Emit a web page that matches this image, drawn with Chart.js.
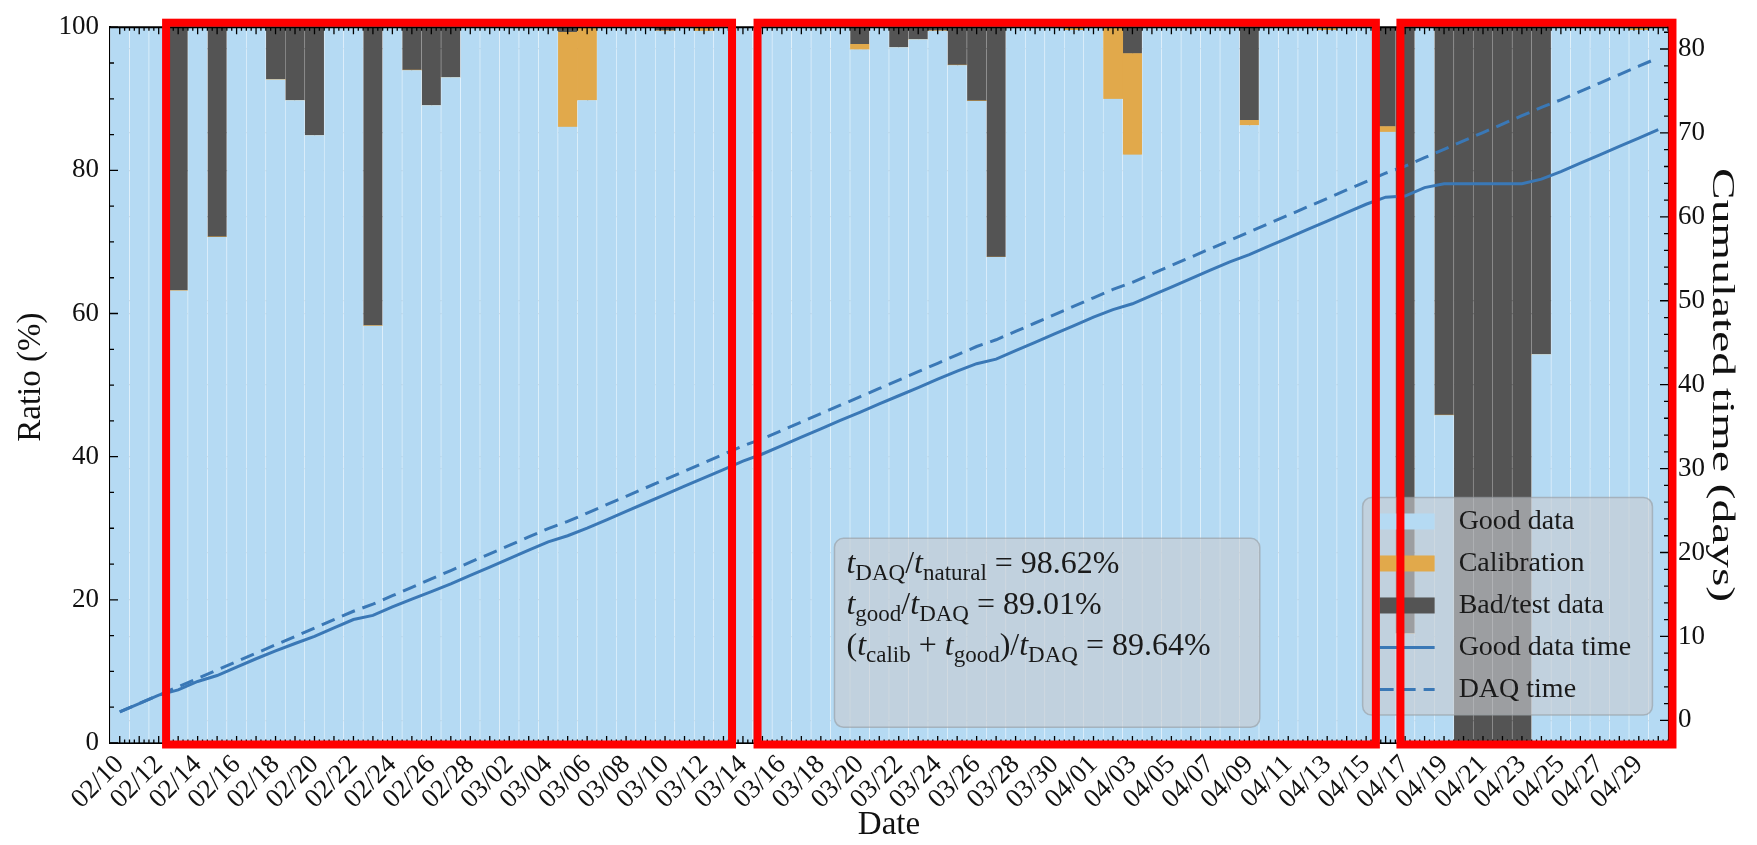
<!DOCTYPE html>
<html>
<head>
<meta charset="utf-8">
<script src="https://cdn.jsdelivr.net/npm/chart.js@4"></script>
<style>
  html, body { margin: 0; padding: 0; background: #fff; }
  #wrap { width: 1757px; height: 845px; }
</style>
</head>
<body>
<div id="wrap"><canvas id="runs" width="1757" height="845"></canvas></div>
<script>
'use strict';

// ===== data =====
var dates = ['02/10','02/11','02/12','02/13','02/14','02/15','02/16','02/17','02/18','02/19',
  '02/20','02/21','02/22','02/23','02/24','02/25','02/26','02/27','02/28','03/01',
  '03/02','03/03','03/04','03/05','03/06','03/07','03/08','03/09','03/10','03/11',
  '03/12','03/13','03/14','03/15','03/16','03/17','03/18','03/19','03/20','03/21',
  '03/22','03/23','03/24','03/25','03/26','03/27','03/28','03/29','03/30','03/31',
  '04/01','04/02','04/03','04/04','04/05','04/06','04/07','04/08','04/09','04/10',
  '04/11','04/12','04/13','04/14','04/15','04/16','04/17','04/18','04/19','04/20',
  '04/21','04/22','04/23','04/24','04/25','04/26','04/27','04/28','04/29','04/30'];

// daily ratios (%)
var goodPct = [100, 100, 100, 63.2, 100, 70.7, 100, 100, 92.7, 89.8,
  84.9, 100, 100, 58.3, 100, 94.0, 89.1, 93.0, 100, 100,
  100, 100, 100, 86.1, 89.8, 100, 100, 100, 99.5, 100,
  99.5, 100, 100, 100, 100, 100, 100, 100, 96.9, 100,
  97.2, 98.3, 99.5, 94.7, 89.7, 67.9, 100, 100, 100, 99.6,
  100, 90.0, 82.2, 100, 100, 100, 100, 100, 86.3, 100,
  100, 100, 99.6, 100, 100, 85.4, 15.3, 100, 45.8, 0,
  0, 0, 0, 54.3, 100, 100, 100, 100, 99.6, 100];

var calibPct = [0, 0, 0, 0, 0, 0, 0, 0, 0, 0,
  0, 0, 0, 0, 0, 0, 0, 0, 0, 0,
  0, 0, 0, 13.2, 10.2, 0, 0, 0, 0, 0,
  0.5, 0, 0, 0, 0, 0, 0, 0, 0.7, 0,
  0, 0, 0, 0, 0, 0, 0, 0, 0, 0.4,
  0, 10.0, 14.1, 0, 0, 0, 0, 0, 0.7, 0,
  0, 0, 0.4, 0, 0, 0.7, 0, 0, 0, 0,
  0, 0, 0, 0, 0, 0, 0, 0, 0.4, 0];

var badPct = [0, 0, 0, 36.8, 0, 29.3, 0, 0, 7.3, 10.2,
  15.1, 0, 0, 41.7, 0, 6.0, 10.9, 7.0, 0, 0,
  0, 0, 0, 0.7, 0, 0, 0, 0, 0.5, 0,
  0, 0, 0, 0, 0, 0, 0, 0, 2.4, 0,
  2.8, 1.7, 0.5, 5.3, 10.3, 32.1, 0, 0, 0, 0,
  0, 0, 3.7, 0, 0, 0, 0, 0, 13.0, 0,
  0, 0, 0, 0, 0, 13.9, 84.7, 0, 54.2, 100,
  100, 100, 100, 45.7, 0, 0, 0, 0, 0, 0];

// cumulated time (days)
var goodTime = [1.00, 2.00, 3.00, 3.63, 4.63, 5.34, 6.34, 7.34, 8.27, 9.16,
  10.01, 11.01, 12.01, 12.51, 13.51, 14.45, 15.34, 16.27, 17.27, 18.27,
  19.27, 20.27, 21.27, 22.00, 22.90, 23.90, 24.90, 25.90, 26.90, 27.90,
  28.89, 29.89, 30.89, 31.74, 32.74, 33.74, 34.74, 35.74, 36.71, 37.71,
  38.68, 39.66, 40.66, 41.61, 42.50, 43.05, 44.05, 45.05, 46.05, 47.04,
  48.04, 48.94, 49.64, 50.64, 51.64, 52.64, 53.64, 54.64, 55.50, 56.50,
  57.50, 58.50, 59.50, 60.50, 61.50, 62.35, 62.48, 63.48, 63.94, 63.94,
  63.94, 63.94, 63.94, 64.49, 65.39, 66.39, 67.39, 68.39, 69.38, 70.38];

var daqTime = [1, 2, 3, 4, 5, 6, 7, 8, 9, 10,
  11, 12, 13, 13.85, 14.85, 15.85, 16.85, 17.85, 18.85, 19.85,
  20.85, 21.85, 22.85, 23.70, 24.70, 25.70, 26.70, 27.70, 28.70, 29.70,
  30.70, 31.70, 32.70, 33.55, 34.55, 35.55, 36.55, 37.55, 38.55, 39.55,
  40.55, 41.55, 42.55, 43.55, 44.55, 45.35, 46.35, 47.35, 48.35, 49.35,
  50.35, 51.35, 52.20, 53.20, 54.20, 55.20, 56.20, 57.20, 58.20, 59.20,
  60.20, 61.20, 62.20, 63.20, 64.20, 65.20, 66.05, 67.05, 68.05, 69.05,
  70.05, 71.05, 72.05, 73.05, 73.95, 74.95, 75.95, 76.95, 77.95, 78.95];

var ratioTicks = [0, 20, 40, 60, 80, 100];
var daysTicks = [0, 10, 20, 30, 40, 50, 60, 70, 80];

// highlighted date ranges (red frames): first day, last day, shift of each edge in days
var frames = [['02/13', '03/13', -0.12, -0.06], ['03/15', '04/15', 0.25, 0], ['04/17', '04/30', 0.26, 0.23]];

// =====

var SERIF = '"Liberation Serif", "Times New Roman", serif';
var GRID = 'rgba(80,80,80,0.85)';
var LINE_BLUE = '#3a78b6';

function drawMath(ctx, x, y, parts){
  parts.forEach(function(p){
    var txt = p[0], kind = p[1];
    if (kind === 's') {
      ctx.font = '23px ' + SERIF;
      ctx.fillText(txt, x, y + 7);
    } else if (kind === 'i') {
      ctx.font = 'italic 32px ' + SERIF;
      ctx.fillText(txt, x, y);
    } else {
      ctx.font = '32px ' + SERIF;
      ctx.fillText(txt, x, y);
    }
    x += ctx.measureText(txt).width;
  });
}

function roundRect(ctx, x, y, w, h, r){
  ctx.beginPath();
  ctx.moveTo(x + r, y);
  ctx.arcTo(x + w, y, x + w, y + h, r);
  ctx.arcTo(x + w, y + h, x, y + h, r);
  ctx.arcTo(x, y + h, x, y, r);
  ctx.arcTo(x, y, x + w, y, r);
  ctx.closePath();
}

// vertical axis title; stretch widens it along its length
function sideTitle(ctx, text, cx, cy, angle, size, stretch){
  ctx.save();
  ctx.translate(cx, cy);
  ctx.rotate(angle);
  ctx.scale(stretch, 1);
  ctx.font = size + 'px ' + SERIF;
  ctx.fillStyle = '#111';
  ctx.textAlign = 'center';
  ctx.textBaseline = 'middle';
  ctx.fillText(text, 0, 0);
  ctx.restore();
}

var overlay = {
  id: 'overlay',
  afterDraw: function(chart){
    var ctx = chart.ctx, a = chart.chartArea;
    var xs = chart.scales.x, ys = chart.scales.y, ys2 = chart.scales.y2;
    var W = a.right - a.left, H = a.bottom - a.top;
    var slot = xs.getPixelForValue(1) - xs.getPixelForValue(0);
    ctx.save();

    // top spine
    ctx.strokeStyle = '#000';
    ctx.lineWidth = 2;
    ctx.beginPath();
    ctx.moveTo(a.left, a.top); ctx.lineTo(a.right, a.top);
    ctx.stroke();

    // inward ticks
    ctx.lineWidth = 1.3;
    ctx.beginPath();
    for (var i = 0; i < dates.length; i++) {
      var px = xs.getPixelForValue(i);
      ctx.moveTo(px, a.bottom); ctx.lineTo(px, a.bottom - 7);
      ctx.moveTo(px, a.top); ctx.lineTo(px, a.top + 7);
      for (var j = 1; j < 4; j++) {
        var mx = px + j * slot / 4;
        if (mx > a.right) break;
        ctx.moveTo(mx, a.bottom); ctx.lineTo(mx, a.bottom - 3.5);
        ctx.moveTo(mx, a.top); ctx.lineTo(mx, a.top + 3.5);
      }
    }
    for (var v = 0; v <= 100; v += 5) {
      var py = ys.getPixelForValue(v);
      ctx.moveTo(a.left, py); ctx.lineTo(a.left + (v % 20 === 0 ? 8 : 4), py);
    }
    for (var d = 0; d <= 82; d += 2) {
      var py2 = ys2.getPixelForValue(d);
      ctx.moveTo(a.right, py2); ctx.lineTo(a.right - (d % 10 === 0 ? 8 : 4), py2);
    }
    ctx.stroke();

    // axis titles on both sides
    sideTitle(ctx, 'Ratio (%)', 31, (a.top + a.bottom) / 2 - 8, -Math.PI / 2, 33, 1);
    sideTitle(ctx, 'Cumulated time (days)', 1721, (a.top + a.bottom) / 2, Math.PI / 2, 32, 1.48);

    // statistics box
    var bx = a.left + 0.465 * W, by = a.top + 0.714 * H;
    var bw = 0.273 * W, bh = 0.264 * H;
    roundRect(ctx, bx, by, bw, bh, 9);
    ctx.fillStyle = 'rgba(200,203,208,0.62)';
    ctx.fill();
    ctx.strokeStyle = 'rgba(150,155,160,0.6)';
    ctx.lineWidth = 1.5;
    ctx.stroke();
    ctx.fillStyle = '#1a1a1a';
    ctx.textBaseline = 'alphabetic';
    ctx.textAlign = 'left';
    drawMath(ctx, bx + 12, by + 35, [['t','i'],['DAQ','s'],['/','r'],['t','i'],['natural','s'],[' = 98.62%','r']]);
    drawMath(ctx, bx + 12, by + 76, [['t','i'],['good','s'],['/','r'],['t','i'],['DAQ','s'],[' = 89.01%','r']]);
    drawMath(ctx, bx + 12, by + 117, [['(','r'],['t','i'],['calib','s'],[' + ','r'],['t','i'],['good','s'],[')/','r'],['t','i'],['DAQ','s'],[' = 89.64%','r']]);

    // legend
    var lx = a.left + 0.804 * W, ly = a.top + 0.657 * H;
    var lw = 0.186 * W, lh = 0.304 * H;
    roundRect(ctx, lx, ly, lw, lh, 9);
    ctx.fillStyle = 'rgba(200,203,208,0.62)';
    ctx.fill();
    ctx.strokeStyle = 'rgba(150,155,160,0.6)';
    ctx.lineWidth = 1.5;
    ctx.stroke();
    ctx.font = '28px ' + SERIF;
    ctx.textBaseline = 'middle';
    chart.data.datasets.forEach(function(ds, k){
      var cy = ly + 24 + k * 42;
      if (ds.type === 'bar') {
        ctx.fillStyle = ds.backgroundColor;
        ctx.fillRect(lx + 17, cy - 8, 55, 16);
      } else {
        ctx.strokeStyle = ds.borderColor;
        ctx.lineWidth = 3;
        ctx.setLineDash(ds.borderDash || []);
        ctx.beginPath();
        ctx.moveTo(lx + 17, cy); ctx.lineTo(lx + 72, cy);
        ctx.stroke();
        ctx.setLineDash([]);
      }
      ctx.fillStyle = '#1a1a1a';
      ctx.fillText(ds.label, lx + 96, cy);
    });

    // red frames
    ctx.strokeStyle = '#ff0000';
    ctx.lineWidth = 8;
    frames.forEach(function(f){
      var x0 = xs.getPixelForValue(dates.indexOf(f[0])) - slot / 2 + f[2] * slot;
      var x1 = xs.getPixelForValue(dates.indexOf(f[1])) + slot / 2 + f[3] * slot;
      ctx.strokeRect(x0, a.top - 4.5, x1 - x0, H + 6);
    });

    ctx.restore();
  }
};

var tickFont = { family: SERIF, size: 27 };
var titleFont = { family: SERIF, size: 33 };

var ctx = document.getElementById('runs').getContext('2d');
var chart = new Chart(ctx, {
  data: {
    labels: dates,
    datasets: [
      // stacking follows "order": good at the bottom, bad/test on top
      { type: 'bar', label: 'Good data', data: goodPct, yAxisID: 'y', backgroundColor: '#b5daf3',
        borderColor: 'rgba(235,245,252,0.8)', borderWidth: { left: 0.6, right: 0.6, top: 0, bottom: 0 }, borderSkipped: false,
        barPercentage: 1, categoryPercentage: 1, order: 1 },
      { type: 'bar', label: 'Calibration', data: calibPct, yAxisID: 'y', backgroundColor: '#e1a94b',
        barPercentage: 1, categoryPercentage: 1, order: 2 },
      { type: 'bar', label: 'Bad/test data', data: badPct, yAxisID: 'y', backgroundColor: '#545454',
        borderColor: 'rgba(140,140,140,0.6)', borderWidth: { left: 0.6, right: 0.6, top: 0, bottom: 0 }, borderSkipped: false,
        barPercentage: 1, categoryPercentage: 1, order: 3 },
      { type: 'line', label: 'Good data time', data: goodTime, yAxisID: 'y2', borderColor: LINE_BLUE,
        borderWidth: 3, pointRadius: 0, tension: 0, order: 0 },
      { type: 'line', label: 'DAQ time', data: daqTime, yAxisID: 'y2', borderColor: LINE_BLUE,
        borderWidth: 3, borderDash: [14, 8], pointRadius: 0, tension: 0, order: 0 }
    ]
  },
  options: {
    responsive: false,
    animation: false,
    layout: { padding: { top: 20, left: 0, right: 0, bottom: 0 } },
    plugins: { legend: { display: false }, tooltip: { enabled: false } },
    scales: {
      x: {
        stacked: true,
        offset: true,
        z: 1,
        grid: { offset: false, color: GRID, lineWidth: 1.2, drawTicks: false },
        border: { display: true, color: '#000', width: 2, dash: [3, 3] },
        ticks: {
          autoSkip: false, maxRotation: 45, minRotation: 45, padding: 6,
          color: '#111', font: tickFont,
          callback: function(v, i){ return i % 2 === 0 ? dates[i] : ''; }
        },
        title: { display: true, text: 'Date', color: '#111', font: titleFont, padding: { top: 0, bottom: 0 } },
        afterFit: function(s){ s.height = 102; }
      },
      y: {
        stacked: true,
        position: 'left',
        min: 0, max: 100,
        z: 1,
        grid: { color: GRID, lineWidth: 1.2, drawTicks: false },
        border: { display: true, color: '#000', width: 2, dash: [5, 3] },
        ticks: { stepSize: 20, padding: 11, color: '#111', font: tickFont,
          callback: function(v){ return ratioTicks.indexOf(v) >= 0 ? v : ''; } },
        title: { display: false, text: 'Ratio (%)' },
        afterFit: function(s){ s.width = 110; }
      },
      y2: {
        position: 'right',
        min: -2.7, max: 82.6,
        z: 1,
        grid: { color: GRID, lineWidth: 1.2, drawTicks: false, drawOnChartArea: true },
        border: { display: true, color: '#000', width: 2, dash: [5, 3] },
        ticks: { stepSize: 10, includeBounds: false, padding: 10, color: '#111', font: tickFont,
          callback: function(v){ return daysTicks.indexOf(v) >= 0 ? v : ''; } },
        title: { display: false, text: 'Cumulated time (days)' },
        afterFit: function(s){ s.width = 89; }
      }
    }
  },
  plugins: [overlay]
});
</script>
</body>
</html>
